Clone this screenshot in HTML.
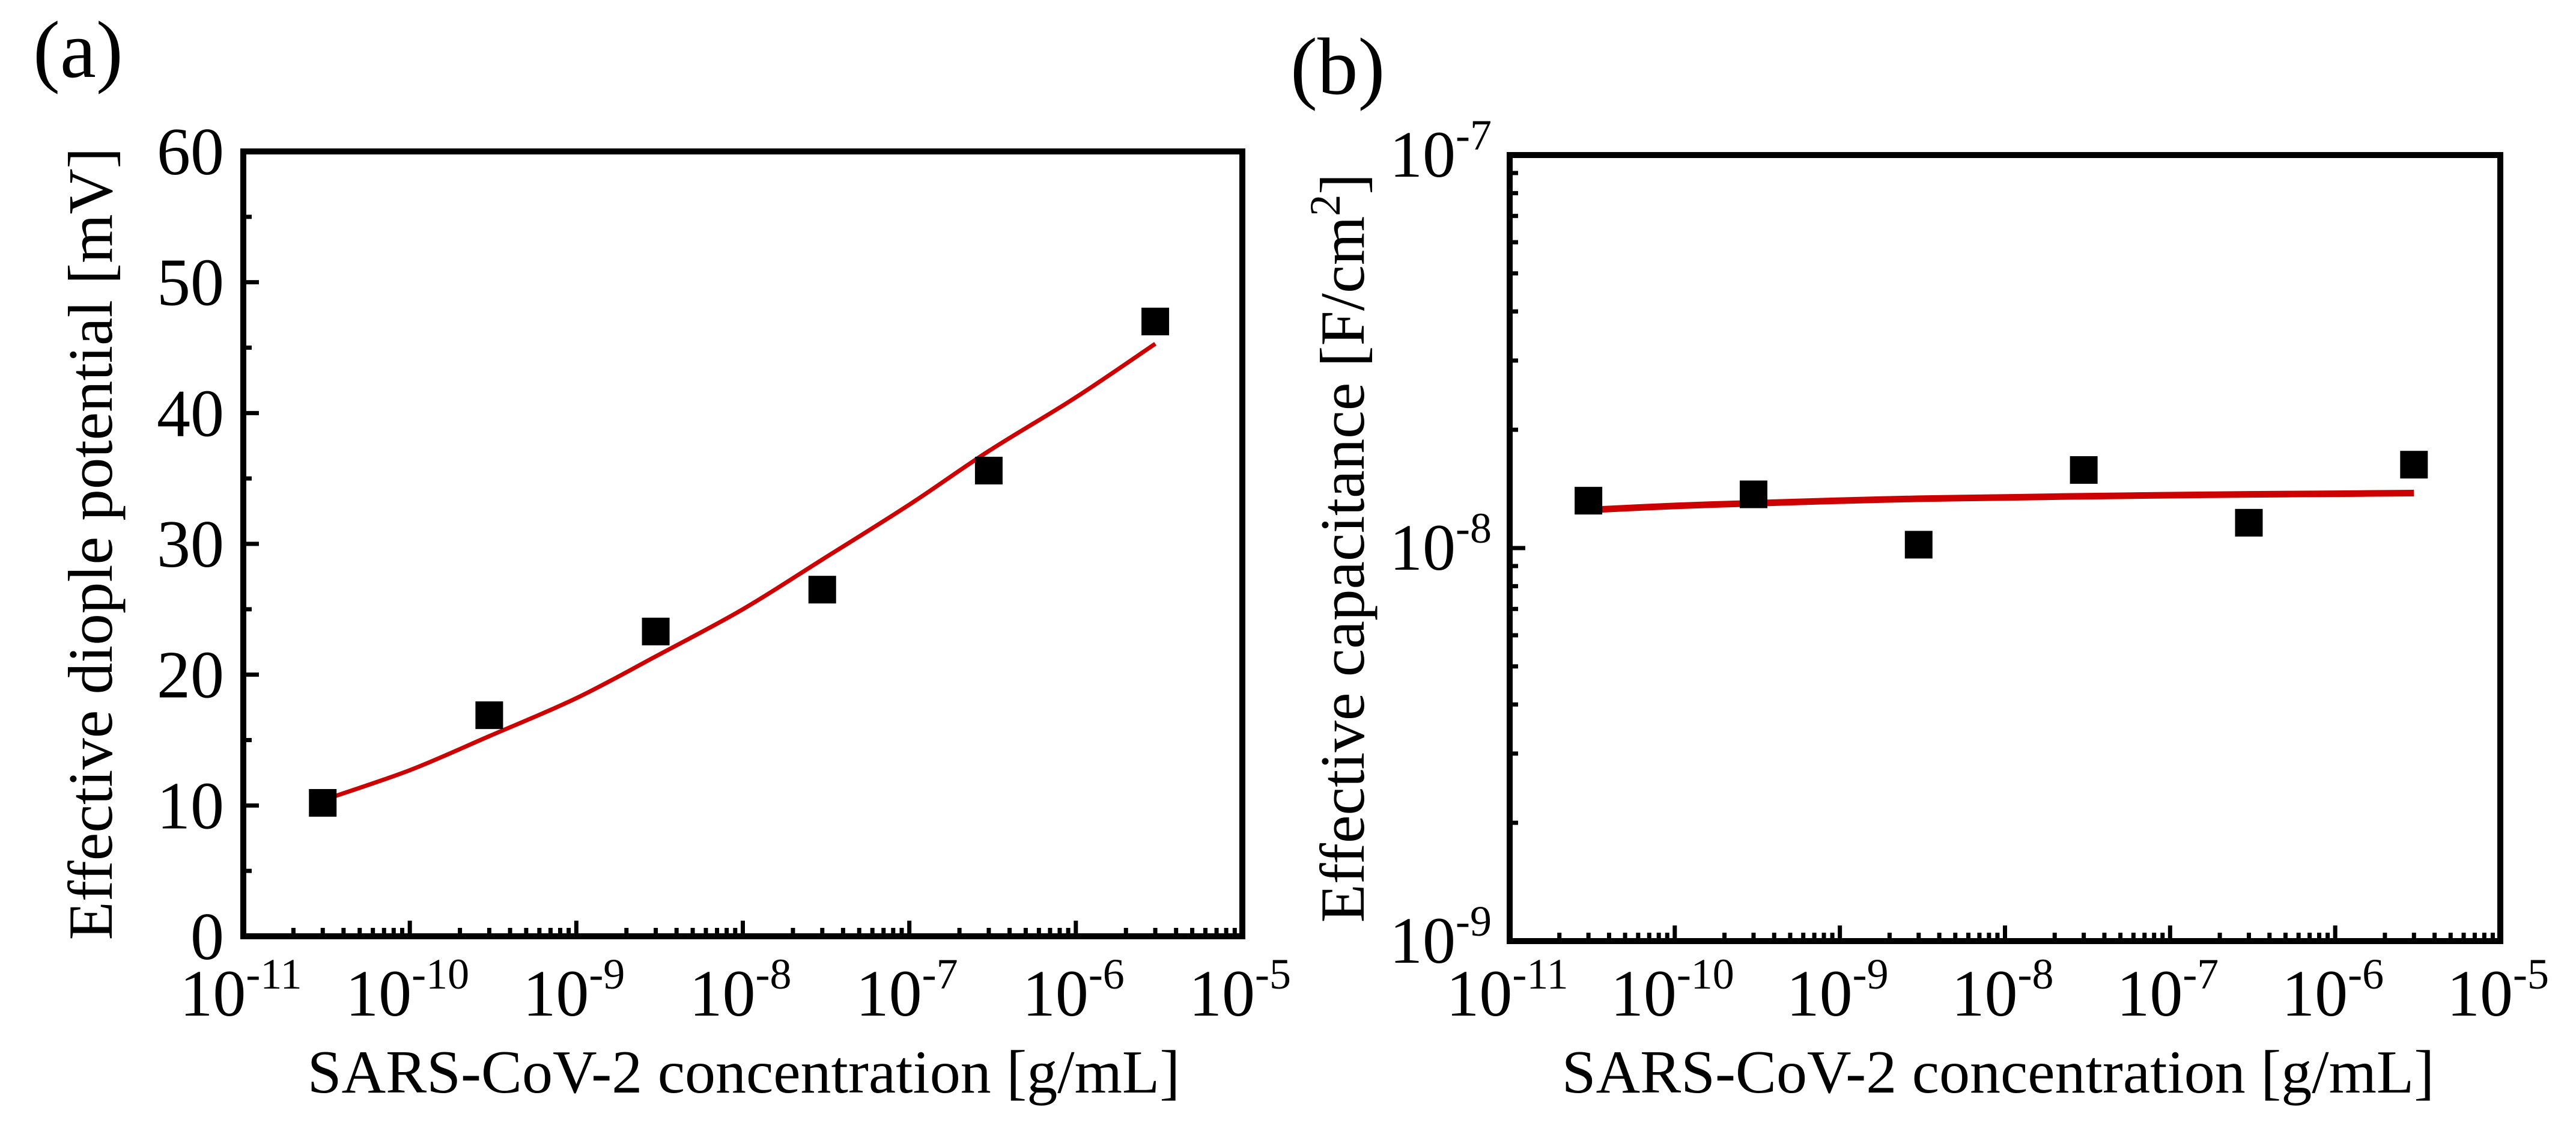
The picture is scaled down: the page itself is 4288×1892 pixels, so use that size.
<!DOCTYPE html>
<html><head><meta charset="utf-8"><style>
html,body{margin:0;padding:0;background:#fff;}
svg{display:block;font-family:"Liberation Serif",serif;}
</style></head><body>
<svg id="fig" width="4288" height="1892" viewBox="0 0 4288 1892" xmlns="http://www.w3.org/2000/svg">
<rect width="4288" height="1892" fill="#fff"/>
<text x="55" y="128" font-size="135">(a)</text>
<text x="2148" y="156" font-size="135">(b)</text>
<g id="pa"></g>
<g id="pb"></g>
</svg>
<script>
// Data
const concA = [3e-11, 3e-10, 3e-9, 3e-8, 3e-7, 3e-6];
const dipoleA = [10.2, 16.9, 23.3, 26.5, 35.6, 47.0];
const fitXA = [3e-11, 1e-10, 3e-10, 1e-9, 3e-9, 1e-8, 3e-8, 1e-7, 3e-7, 1e-6, 3e-6];
const fitYA = [10.4, 12.7, 15.3, 18.2, 21.4, 25.0, 28.8, 33.0, 37.1, 41.2, 45.3];
const yTicksA = [0, 10, 20, 30, 40, 50, 60];
const xTickExp = [-11, -10, -9, -8, -7, -6, -5];
const concB = [3e-11, 3e-10, 3e-9, 3e-8, 3e-7, 3e-6];
const capB = [1.32e-8, 1.37e-8, 1.02e-8, 1.58e-8, 1.16e-8, 1.63e-8];
const fitXB = [3e-11, 1e-10, 3e-10, 1e-9, 3e-9, 1e-8, 3e-8, 1e-7, 3e-7, 1e-6, 3e-6];
const fitYB = [1.25e-8, 1.28e-8, 1.30e-8, 1.32e-8, 1.335e-8, 1.345e-8, 1.355e-8, 1.363e-8, 1.37e-8, 1.375e-8, 1.38e-8];
const yTickExpB = [-9, -8, -7];

const NS = "http://www.w3.org/2000/svg";
function mk(parent, tag, attrs){
  const e = document.createElementNS(NS, tag);
  for (const k in attrs) e.setAttribute(k, attrs[k]);
  parent.appendChild(e); return e;
}
function powLabel(g, x, y, exp, anchor){
  const t = mk(g, 'text', {x:x, y:y, 'font-size':110, 'text-anchor':anchor});
  const a = document.createElementNS(NS,'tspan'); a.textContent='10'; t.appendChild(a);
  const b = document.createElementNS(NS,'tspan'); b.setAttribute('dy','-45'); b.setAttribute('font-size','72'); b.textContent=String(exp); t.appendChild(b);
  return t;
}
function smoothPath(P){
  let d = 'M' + P[0][0].toFixed(1) + ',' + P[0][1].toFixed(1);
  for (let i = 0; i < P.length - 1; i++) {
    const p0 = P[Math.max(0, i-1)], p1 = P[i], p2 = P[i+1], p3 = P[Math.min(P.length-1, i+2)];
    const c1x = p1[0] + (p2[0]-p0[0])/6, c1y = p1[1] + (p2[1]-p0[1])/6;
    const c2x = p2[0] - (p3[0]-p1[0])/6, c2y = p2[1] - (p3[1]-p1[1])/6;
    d += ' C' + c1x.toFixed(1)+','+c1y.toFixed(1)+' '+c2x.toFixed(1)+','+c2y.toFixed(1)+' '+p2[0].toFixed(1)+','+p2[1].toFixed(1);
  }
  return d;
}

function drawPanel(g, L, R, T, B, yIsLog, yMin, yMax, opts){
  const xs = v => L + (Math.log10(v) + 11) / 6 * (R - L);
  const ys = yIsLog ? (v => B - (Math.log10(v) - yMin) / (yMax - yMin) * (B - T))
                    : (v => B - (v - yMin) / (yMax - yMin) * (B - T));
  for (let d = -11; d < -5; d++) {
    for (let m = 2; m <= 9; m++) {
      const x = xs(m * Math.pow(10, d));
      const t = mk(g, 'line', {x1:x, x2:x, y1:B, y2:B-14, stroke:'#000', 'stroke-width':7});
      
      
    }
  }
  xTickExp.forEach(e => {
    const x = xs(Math.pow(10, e));
    const t = mk(g, 'line', {x1:x, x2:x, y1:B, y2:B-26, stroke:'#000', 'stroke-width':7});
    
    
    const lb = powLabel(g, x - 4, 1690, e, 'middle');
    
    
  });
  if (!yIsLog) {
    yTicksA.forEach((v, i) => {
      const y = ys(v);
      const t = mk(g, 'line', {x1:L, x2:L+26, y1:y, y2:y, stroke:'#000', 'stroke-width':7});
      
      
      if (i < yTicksA.length - 1) {
        const ym = ys(v + 5);
        const t2 = mk(g, 'line', {x1:L, x2:L+14, y1:ym, y2:ym, stroke:'#000', 'stroke-width':7});
        
        
      }
      const lb = mk(g, 'text', {x:L-32, y:y+38, 'font-size':112, 'text-anchor':'end'});
      lb.textContent = v;
      
      
    });
  } else {
    yTickExpB.forEach((e, i) => {
      const y = ys(Math.pow(10, e));
      const t = mk(g, 'line', {x1:L, x2:L+26, y1:y, y2:y, stroke:'#000', 'stroke-width':7});
      
      
      if (i < yTickExpB.length - 1) {
        for (let m = 2; m <= 9; m++) {
          const ym = ys(m * Math.pow(10, e));
          const t2 = mk(g, 'line', {x1:L, x2:L+14, y1:ym, y2:ym, stroke:'#000', 'stroke-width':7});
          
          
        }
      }
      const lb = powLabel(g, L-30, y+36, e, 'end');
      
      
    });
  }
  const P = opts.fitX.map((v, i) => [xs(v), ys(opts.fitY[i])]);
  const fl = mk(g, 'path', {d:smoothPath(P), fill:'none', stroke:'#cc0000', 'stroke-width':opts.fitW, 'stroke-linejoin':'round'});
  
  
  opts.px.forEach((v, i) => {
    const s = 46;
    const r = mk(g, 'rect', {x:xs(v)-s/2, y:ys(opts.py[i])-s/2, width:s, height:s, fill:'#000'});
    
    
  });
  const fr = mk(g, 'rect', {x:L, y:T, width:R-L, height:B-T, fill:'none', stroke:'#000', 'stroke-width':10});
  
  
  const xt = mk(g, 'text', {x:opts.xtX, y:1818, 'font-size':102, 'text-anchor':'middle'});
  xt.textContent = 'SARS-CoV-2 concentration [g/mL]';
  
  
  const yt = mk(g, 'text', {x:0, y:0, 'font-size':105, 'text-anchor':'middle', transform:'translate(' + opts.ytX + ',' + ((T+B)/2) + ') rotate(-90)'});
  
  
  if (opts.ytSup) {
    const a = document.createElementNS(NS,'tspan'); a.textContent = opts.ytText; yt.appendChild(a);
    const b = document.createElementNS(NS,'tspan'); b.setAttribute('dy','-40'); b.setAttribute('font-size','72'); b.textContent = '2'; yt.appendChild(b);
    const c = document.createElementNS(NS,'tspan'); c.setAttribute('dy','40'); c.textContent = ']'; yt.appendChild(c);
  } else {
    yt.textContent = opts.ytText;
  }
}

drawPanel(document.getElementById('pa'), 405, 2068, 252, 1558, false, 0, 60,
  {fitX:fitXA, fitY:fitYA, fitW:7, px:concA, py:dipoleA, xtX:1238, ytX:186, ytText:'Effective diople potential [mV]'});
drawPanel(document.getElementById('pb'), 2513, 4162, 258, 1566, true, -9, -7,
  {fitX:fitXB, fitY:fitYB, fitW:11, px:concB, py:capB, xtX:3326, ytX:2270, ytText:'Effective capacitance [F/cm', ytSup:true});
</script>
</body></html>
